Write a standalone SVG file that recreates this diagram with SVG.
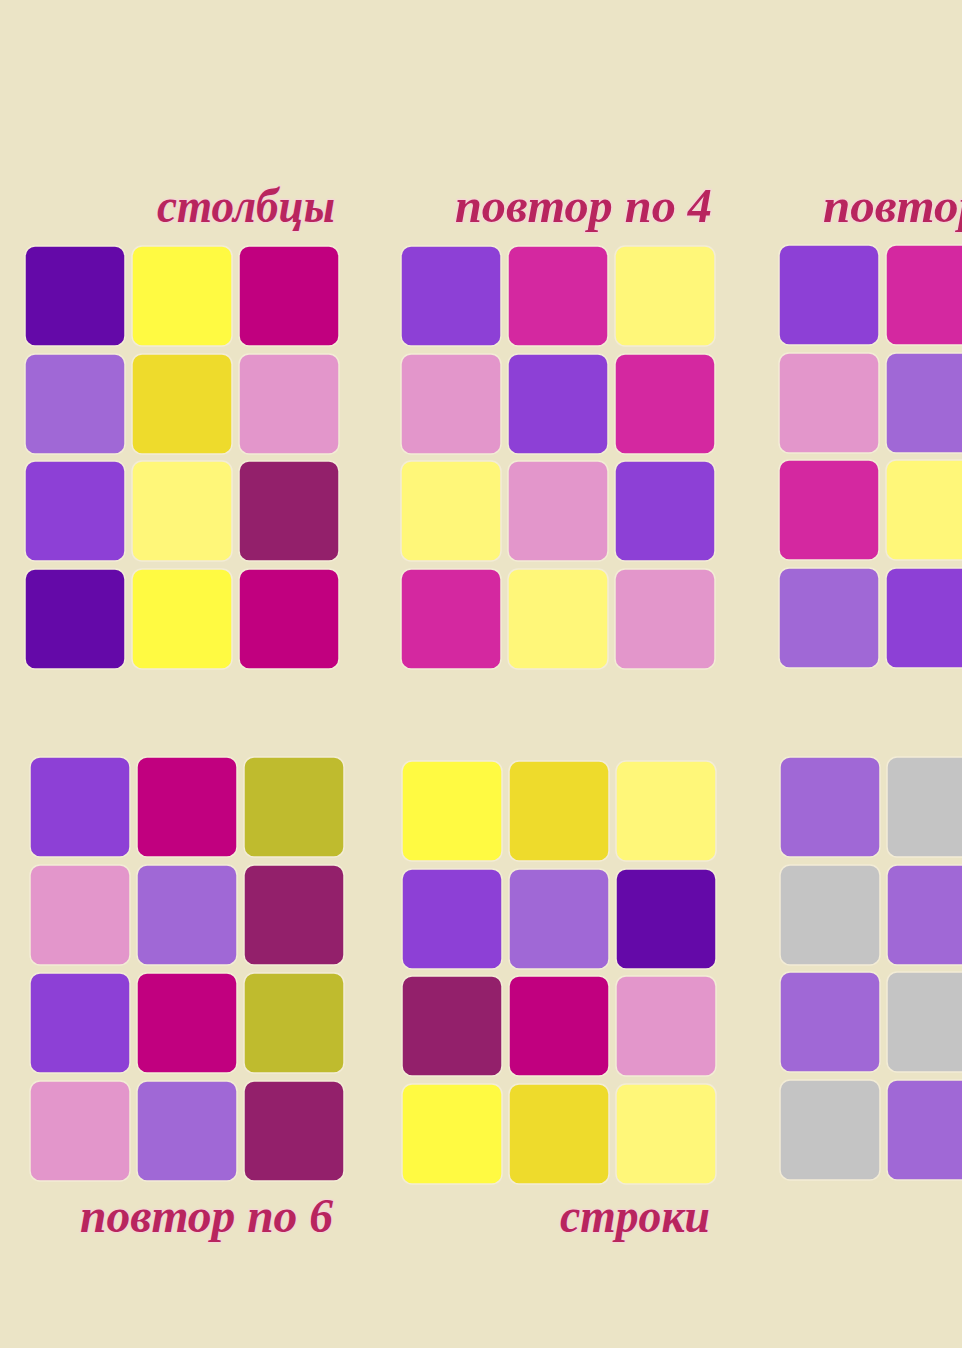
<svg xmlns="http://www.w3.org/2000/svg" width="962" height="1348" viewBox="0 0 962 1348">
<style>
rect.s{rx:10px;ry:10px;stroke:#f3ecd6;stroke-width:1.5}
.dv{fill:#6409a8}.yl{fill:#fffa42}.mg{fill:#c1007f}.lp{fill:#a068d6}.gy{fill:#eedb2c}.pk{fill:#e396cb}
.pu{fill:#8d40d6}.py{fill:#fff779}.pl{fill:#93206b}.hp{fill:#d428a0}.ol{fill:#bfbb2e}.gr{fill:#c4c4c4}
text{font-family:"Liberation Serif","DejaVu Serif",serif;font-style:italic;font-weight:bold;font-size:48px;fill:#b8255e;stroke:#f4d6d6;stroke-width:2.5px;paint-order:stroke}
</style>
<rect width="962" height="1348" fill="#ebe4c6"/>
<g id="labels">
<text x="157" y="222" textLength="178" lengthAdjust="spacingAndGlyphs">столбцы</text>
<text x="455" y="222" textLength="257" lengthAdjust="spacingAndGlyphs">повтор по 4</text>
<text x="823" y="222" textLength="160" lengthAdjust="spacingAndGlyphs">повтор</text>
<text x="80" y="1232" textLength="253" lengthAdjust="spacingAndGlyphs">повтор по 6</text>
<text x="560" y="1232" textLength="150" lengthAdjust="spacingAndGlyphs">строки</text>
</g>
<g id="grid-columns">
<rect class="s dv" x="25" y="246" width="100" height="100"/><rect class="s yl" x="132" y="246" width="100" height="100"/><rect class="s mg" x="239" y="246" width="100" height="100"/>
<rect class="s lp" x="25" y="354" width="100" height="100"/><rect class="s gy" x="132" y="354" width="100" height="100"/><rect class="s pk" x="239" y="354" width="100" height="100"/>
<rect class="s pu" x="25" y="461" width="100" height="100"/><rect class="s py" x="132" y="461" width="100" height="100"/><rect class="s pl" x="239" y="461" width="100" height="100"/>
<rect class="s dv" x="25" y="569" width="100" height="100"/><rect class="s yl" x="132" y="569" width="100" height="100"/><rect class="s mg" x="239" y="569" width="100" height="100"/>
</g>
<g id="grid-repeat4">
<rect class="s pu" x="401" y="246" width="100" height="100"/><rect class="s hp" x="508" y="246" width="100" height="100"/><rect class="s py" x="615" y="246" width="100" height="100"/>
<rect class="s pk" x="401" y="354" width="100" height="100"/><rect class="s pu" x="508" y="354" width="100" height="100"/><rect class="s hp" x="615" y="354" width="100" height="100"/>
<rect class="s py" x="401" y="461" width="100" height="100"/><rect class="s pk" x="508" y="461" width="100" height="100"/><rect class="s pu" x="615" y="461" width="100" height="100"/>
<rect class="s hp" x="401" y="569" width="100" height="100"/><rect class="s py" x="508" y="569" width="100" height="100"/><rect class="s pk" x="615" y="569" width="100" height="100"/>
</g>
<g id="grid-repeat-right">
<rect class="s pu" x="779" y="245" width="100" height="100"/><rect class="s hp" x="886" y="245" width="100" height="100"/>
<rect class="s pk" x="779" y="353" width="100" height="100"/><rect class="s lp" x="886" y="353" width="100" height="100"/>
<rect class="s hp" x="779" y="460" width="100" height="100"/><rect class="s py" x="886" y="460" width="100" height="100"/>
<rect class="s lp" x="779" y="568" width="100" height="100"/><rect class="s pu" x="886" y="568" width="100" height="100"/>
</g>
<g id="grid-repeat6">
<rect class="s pu" x="30" y="757" width="100" height="100"/><rect class="s mg" x="137" y="757" width="100" height="100"/><rect class="s ol" x="244" y="757" width="100" height="100"/>
<rect class="s pk" x="30" y="865" width="100" height="100"/><rect class="s lp" x="137" y="865" width="100" height="100"/><rect class="s pl" x="244" y="865" width="100" height="100"/>
<rect class="s pu" x="30" y="973" width="100" height="100"/><rect class="s mg" x="137" y="973" width="100" height="100"/><rect class="s ol" x="244" y="973" width="100" height="100"/>
<rect class="s pk" x="30" y="1081" width="100" height="100"/><rect class="s lp" x="137" y="1081" width="100" height="100"/><rect class="s pl" x="244" y="1081" width="100" height="100"/>
</g>
<g id="grid-rows">
<rect class="s yl" x="402" y="761" width="100" height="100"/><rect class="s gy" x="509" y="761" width="100" height="100"/><rect class="s py" x="616" y="761" width="100" height="100"/>
<rect class="s pu" x="402" y="869" width="100" height="100"/><rect class="s lp" x="509" y="869" width="100" height="100"/><rect class="s dv" x="616" y="869" width="100" height="100"/>
<rect class="s pl" x="402" y="976" width="100" height="100"/><rect class="s mg" x="509" y="976" width="100" height="100"/><rect class="s pk" x="616" y="976" width="100" height="100"/>
<rect class="s yl" x="402" y="1084" width="100" height="100"/><rect class="s gy" x="509" y="1084" width="100" height="100"/><rect class="s py" x="616" y="1084" width="100" height="100"/>
</g>
<g id="grid-grey">
<rect class="s lp" x="780" y="757" width="100" height="100"/><rect class="s gr" x="887" y="757" width="100" height="100"/>
<rect class="s gr" x="780" y="865" width="100" height="100"/><rect class="s lp" x="887" y="865" width="100" height="100"/>
<rect class="s lp" x="780" y="972" width="100" height="100"/><rect class="s gr" x="887" y="972" width="100" height="100"/>
<rect class="s gr" x="780" y="1080" width="100" height="100"/><rect class="s lp" x="887" y="1080" width="100" height="100"/>
</g>
</svg>
